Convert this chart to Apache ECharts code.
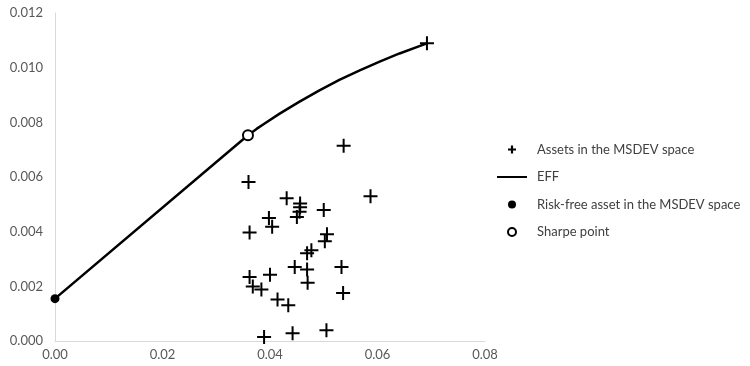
<!DOCTYPE html>
<html>
<head>
<meta charset="utf-8">
<script src="https://cdn.jsdelivr.net/npm/echarts@6/dist/echarts.min.js"></script>
<style>html,body{margin:0;padding:0;background:#fff}#c{width:750px;height:366px}</style>
</head>
<body>
<div id="c"></div>
<script>
// Assets in the MSDEV space: [MSDEV, mean]
var assetX = [0.0537,0.0360,0.0587,0.0431,0.0456,0.0456,0.0455,0.0450,0.0500,0.0398,0.0404,0.0362,0.0506,0.0502,0.0477,0.0469,0.0446,0.0469,0.0533,0.0362,0.0400,0.0368,0.0384,0.0470,0.0536,0.0414,0.0434,0.0389,0.0442,0.0505,0.0692];
var assetY = [0.00714,0.00582,0.00530,0.00522,0.00503,0.00489,0.00473,0.00454,0.00479,0.00450,0.00418,0.00397,0.00391,0.00365,0.00332,0.00321,0.00271,0.00262,0.00271,0.00234,0.00242,0.00199,0.00188,0.00213,0.00176,0.00152,0.00131,0.00015,0.00028,0.00039,0.01089];
// Efficient frontier (from risk-free asset through Sharpe point)
var effX = [0.0000,0.0359,0.0375,0.0390,0.0418,0.0455,0.0492,0.0529,0.0567,0.0604,0.0641,0.0678,0.0692];
var effY = [0.00155,0.00753,0.00776,0.00796,0.00832,0.00876,0.00917,0.00955,0.00990,0.01022,0.01052,0.01079,0.01089];
var rfX = [0.0000], rfY = [0.00155];
var sharpeX = [0.0359], sharpeY = [0.00753];
var xTicks = [0.00,0.02,0.04,0.06,0.08];
var yTicks = [0.000,0.002,0.004,0.006,0.008,0.010,0.012];
var names = ['Assets in the MSDEV space','EFF','Risk-free asset in the MSDEV space','Sharpe point'];

function zip(a,b){return a.map(function(v,i){return [v,b[i]];});}
var plus = 'path://M6,0H8V6H14V8H8V14H6V8H0V6H6Z';
var plusLegend = 'path://M4,0H7V4H11V7H7V11H4V7H0V4H4Z';
var font = 'Lato';
var chart = echarts.init(document.getElementById('c'));
chart.setOption({
  animation:false,
  textStyle:{fontFamily:font},
  grid:{left:55,right:265,top:13,bottom:25,containLabel:false},
  xAxis:{type:'value',min:xTicks[0],max:xTicks[xTicks.length-1],interval:0.02,
    axisLine:{show:true,onZero:false,lineStyle:{color:'#d9d9d9',width:1}},
    axisTick:{show:false},splitLine:{show:false},
    axisLabel:{color:'#595959',fontSize:13,fontFamily:font,margin:7,formatter:function(v){return v.toFixed(2);}}},
  yAxis:{type:'value',min:yTicks[0],max:yTicks[yTicks.length-1],interval:0.002,
    axisLine:{show:true,onZero:false,lineStyle:{color:'#d9d9d9',width:1}},
    axisTick:{show:false},splitLine:{show:false},
    axisLabel:{color:'#595959',fontSize:13,fontFamily:font,margin:12,formatter:function(v){return v.toFixed(3);}}},
  legend:{orient:'vertical',left:492,top:138,itemWidth:30,itemHeight:8,itemGap:14.5,
    textStyle:{color:'#404040',fontSize:13,fontFamily:font,padding:[0,0,0,5]},
    data:[
      {name:names[0],icon:plusLegend,itemStyle:{color:'#000',opacity:1}},
      {name:names[1],icon:'path://M0,0H30V2H0Z',itemStyle:{color:'#000',borderWidth:0,opacity:1}},
      {name:names[2],icon:'circle',itemStyle:{color:'#000',opacity:1}},
      {name:names[3],icon:'circle',itemStyle:{color:'#fff',borderColor:'#000',borderWidth:2,opacity:1}}
    ]},
  series:[
    {name:names[1],type:'line',data:zip(effX,effY),showSymbol:false,symbol:'none',
      lineStyle:{color:'#000',width:2.5},itemStyle:{color:'#000'},z:2},
    {name:names[0],type:'scatter',data:zip(assetX,assetY),symbol:plus,symbolSize:14,
      itemStyle:{color:'#000',opacity:1},z:3},
    {name:names[2],type:'scatter',data:zip(rfX,rfY),symbol:'circle',symbolSize:9,
      itemStyle:{color:'#000',opacity:1},z:4},
    {name:names[3],type:'scatter',data:zip(sharpeX,sharpeY),symbol:'circle',symbolSize:10,
      itemStyle:{color:'#fff',borderColor:'#000',borderWidth:2,opacity:1},z:4}
  ]
});
</script>
</body>
</html>
